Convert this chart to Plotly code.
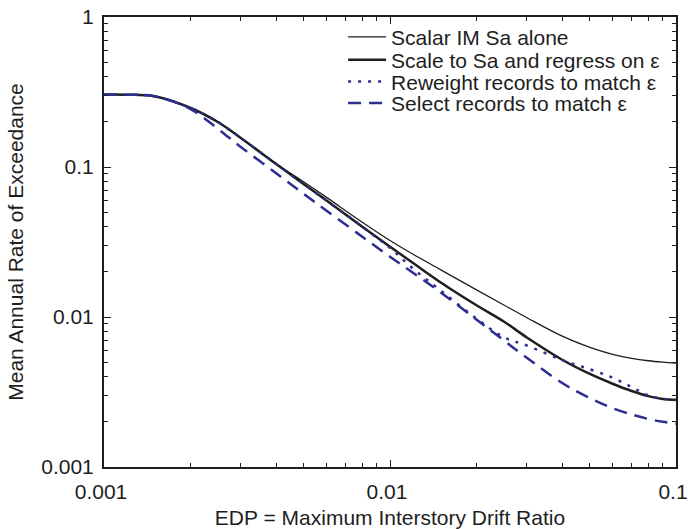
import plotly.graph_objects as go

edp = [0.001, 0.0012, 0.0015, 0.002, 0.0025, 0.003, 0.004, 0.005, 0.006, 0.008,
       0.01, 0.012, 0.015, 0.02, 0.025, 0.03, 0.04, 0.05, 0.06, 0.07, 0.08, 0.09, 0.1]

scalar_sa = [0.3041, 0.3034, 0.2965, 0.2483, 0.1995, 0.1567, 0.1052, 0.0794, 0.0627, 0.04285,
             0.03236, 0.02630, 0.02070, 0.01521, 0.01202, 0.00993, 0.00745, 0.00627, 0.00564,
             0.00530, 0.00511, 0.00500, 0.00493]
scale_regress = [0.3041, 0.3034, 0.2965, 0.2483, 0.1995, 0.1567, 0.1047, 0.0767, 0.0597, 0.0400,
                 0.0294, 0.0230, 0.01706, 0.01202, 0.00933, 0.00733, 0.00519, 0.00417, 0.00359,
                 0.00321, 0.00297, 0.00284, 0.00280]
reweight = [0.3041, 0.3034, 0.2965, 0.2483, 0.1995, 0.1567, 0.1047, 0.0767, 0.0597, 0.0400,
            0.0289, 0.0211, 0.01507, 0.00980, 0.00733, 0.00647, 0.00516, 0.00448, 0.00394,
            0.00341, 0.00300, 0.00285, 0.00281]
select = [0.3041, 0.3034, 0.2965, 0.2443, 0.1799, 0.1365, 0.0908, 0.0661, 0.0511, 0.0343,
          0.0252, 0.0198, 0.01462, 0.00966, 0.00698, 0.00537, 0.00363, 0.00288, 0.00247,
          0.00224, 0.00209, 0.00200, 0.00194]

names = ["Scalar IM Sa alone", "Scale to Sa and regress on \u03b5",
         "Reweight records to match \u03b5", "Select records to match \u03b5"]

x_ticks = [0.001, 0.01, 0.1]
x_ticktext = ["0.001", "0.01", "0.1"]
y_ticks = [0.001, 0.01, 0.1, 1]
y_ticktext = ["0.001", "0.01", "0.1", "1"]

ink = "#1e1e1e"
blue = "#2b2f8f"
styles = [
    dict(color=ink, width=1.3),
    dict(color=ink, width=2.5),
    dict(color=blue, width=2.5, dash="3px,7px"),
    dict(color=blue, width=2.5, dash="13px,8px"),
]
series = [scalar_sa, scale_regress, reweight, select]
legend_ids = ["legend", "legend2", "legend3", "legend4"]

fig = go.Figure()
for name, ys, st, lg in zip(names, series, styles, legend_ids):
    fig.add_trace(go.Scatter(x=edp, y=ys, name=name, mode="lines", legend=lg,
                             line=dict(shape="spline", smoothing=1.0, **st)))

minor_x = [k * 10 ** e for e in (-3, -2) for k in range(2, 10)]
minor_y = [k * 10 ** e for e in (-3, -2, -1) for k in range(2, 10)]

axis_common = dict(type="log", showgrid=False, zeroline=False, showline=True,
                   linecolor=ink, linewidth=2, mirror="allticks", automargin=False,
                   ticks="inside", ticklen=7, tickwidth=1.2, tickcolor=ink,
                   ticklabeloverflow="allow",
                   tickfont=dict(size=21, color=ink))

fig.update_xaxes(range=[-3, -1], tickvals=x_ticks, ticktext=x_ticktext,
                 ticklabelstandoff=5, ticklabelshift=-3,
                 minor=dict(tickvals=minor_x, ticks="inside", ticklen=4, tickcolor=ink),
                 title=dict(text="EDP = Maximum Interstory Drift Ratio",
                            font=dict(size=21, color=ink), standoff=9),
                 **axis_common)
fig.update_yaxes(range=[-3, 0], tickvals=y_ticks, ticktext=y_ticktext,
                 ticklabelstandoff=4,
                 minor=dict(tickvals=minor_y, ticks="inside", ticklen=4, tickcolor=ink),
                 title=dict(text="Mean Annual Rate of Exceedance",
                            font=dict(size=21, color=ink), standoff=12),
                 **axis_common)

legend_rows = [0.955, 0.904, 0.856, 0.808]
legend_cfg = {}
for lg, yrow in zip(legend_ids, legend_rows):
    legend_cfg[lg] = dict(x=0.418, y=yrow, xanchor="left", yanchor="middle",
                          bgcolor="rgba(0,0,0,0)", borderwidth=0,
                          font=dict(size=21, color=ink), itemwidth=38)

fig.update_layout(
    width=688, height=529,
    margin=dict(l=104, r=12, t=17, b=62),
    plot_bgcolor="white", paper_bgcolor="white",
    font=dict(family="Liberation Sans, Arial, sans-serif", size=21, color=ink),
    showlegend=True,
    **legend_cfg,
)

# remove the default page margin so the figure fills the 688x529 window exactly
fig.write_html("out.html", config={"displayModeBar": False},
               post_script="document.body.style.margin='0';document.body.style.overflow='hidden';")
